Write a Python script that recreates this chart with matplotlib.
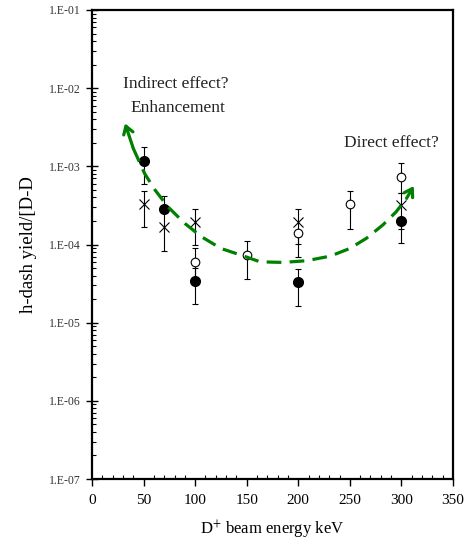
import matplotlib
matplotlib.use("Agg")
import matplotlib.pyplot as plt
from matplotlib.ticker import FixedLocator, FuncFormatter, MultipleLocator, LogLocator, NullFormatter
import numpy as np

plt.rcParams["font.family"] = ["Liberation Serif", "DejaVu Serif"]
plt.rcParams["mathtext.fontset"] = "stix"

# Filled circles
filled_x = [50, 70, 100, 200, 300]
filled_y = [1.18e-3, 2.87e-4, 3.38e-5, 3.31e-5, 2.02e-4]
filled_lo = [5.94e-4, 2.87e-4, 1.73e-5, 1.63e-5, 1.03e-4]
filled_hi = [1.78e-3, 2.87e-4, 5.0e-5, 4.87e-5, 2.02e-4]

# Open circles
open_x = [100, 150, 200, 250, 300]
open_y = [5.97e-5, 7.4e-5, 1.42e-4, 3.30e-4, 7.36e-4]
open_lo = [3.6e-5, 3.62e-5, 6.98e-5, 1.58e-4, 4.60e-4]
open_hi = [8.93e-5, 1.11e-4, 1.42e-4, 4.88e-4, 1.11e-3]

# Crosses
cross_x = [50, 70, 100, 200, 300]
cross_y = [3.30e-4, 1.69e-4, 1.96e-4, 1.96e-4, 3.20e-4]
cross_lo = [1.69e-4, 8.26e-5, 9.86e-5, 1.01e-4, 1.57e-4]
cross_hi = [4.88e-4, 4.18e-4, 2.87e-4, 2.85e-4, 4.60e-4]

# Guide curve (trend sketch)
trend_x = [32, 40, 51, 61, 74, 90, 106, 125, 146, 163, 185, 208, 231, 250, 266, 282, 295, 305, 312]
trend_y = [3.55e-3, 1.70e-3, 8.1e-4, 5.0e-4, 3.0e-4, 1.86e-4, 1.26e-4, 8.9e-5, 7.2e-5,
           6.0e-5, 5.9e-5, 6.2e-5, 7.1e-5, 8.9e-5, 1.2e-4, 1.78e-4, 2.63e-4, 3.9e-4, 5.6e-4]

x_ticks = [0, 50, 100, 150, 200, 250, 300, 350]
y_ticks = [1e-7, 1e-6, 1e-5, 1e-4, 1e-3, 1e-2, 1e-1]

fig = plt.figure(figsize=(4.66, 5.45), dpi=100)
ax = fig.add_axes([92 / 466, 1 - 479 / 545, (453 - 92) / 466, (479 - 10) / 545])
ax.set_yscale("log")
ax.set_xlim(0, 350)
ax.set_ylim(1e-7, 1e-1)

def errs(y, lo, hi):
    y = np.array(y); lo = np.array(lo); hi = np.array(hi)
    return [y - lo, hi - y]

ebkw = dict(ecolor="black", elinewidth=0.8, capsize=2.3, capthick=0.8, linestyle="none", zorder=3)
ax.errorbar(open_x, open_y, yerr=errs(open_y, open_lo, open_hi), fmt="o", ms=6.2,
            mfc="white", mec="black", mew=0.8, **ebkw)
ax.errorbar(cross_x, cross_y, yerr=errs(cross_y, cross_lo, cross_hi), fmt="x", ms=7.5,
            mec="black", mew=0.8, **ebkw)
ax.errorbar(filled_x, filled_y, yerr=errs(filled_y, filled_lo, filled_hi), fmt="o", ms=7,
            mfc="black", mec="black", **ebkw)

green = "#008000"
ax.plot(trend_x[1:-1], trend_y[1:-1], color=green, lw=2.3, linestyle=(0, (4.6, 2.6)),
        solid_capstyle="butt", dash_capstyle="butt", zorder=4)
for (x0, y0), (x1, y1) in [((trend_x[1], trend_y[1]), (trend_x[0], trend_y[0])),
                           ((trend_x[-2], trend_y[-2]), (trend_x[-1], trend_y[-1]))]:
    ax.annotate("", xy=(x1, y1), xytext=(x0, y0),
                arrowprops=dict(arrowstyle="->,head_length=0.55,head_width=0.35",
                                color=green, lw=2.3, shrinkA=0, shrinkB=0), zorder=4)

txtkw = dict(fontsize=12.5, color="#222222")
ax.text(30, 1.13e-2, "Indirect effect?", ha="left", va="center", **txtkw)
ax.text(37, 5.6e-3, "Enhancement", ha="left", va="center", **txtkw)
ax.text(336, 2.0e-3, "Direct effect?", ha="right", va="center", **txtkw)

ax.xaxis.set_major_locator(FixedLocator(x_ticks))
ax.xaxis.set_minor_locator(MultipleLocator(10))
ax.yaxis.set_major_locator(FixedLocator(y_ticks))
ax.yaxis.set_minor_locator(LogLocator(base=10, subs=np.arange(2, 10)))
ax.yaxis.set_minor_formatter(NullFormatter())
ax.yaxis.set_major_formatter(FuncFormatter(lambda v, p: "1.E-%02d" % round(-np.log10(v))))

ax.tick_params(axis="x", which="major", direction="out", length=5, width=1, labelsize=11, pad=6)
ax.tick_params(axis="x", which="minor", direction="in", length=3, width=0.8)
ax.tick_params(axis="y", which="major", direction="inout", length=8, width=1, labelsize=8.5,
               pad=4, labelcolor="#333333")
ax.tick_params(axis="y", which="minor", direction="in", length=3, width=0.8)
for s in ax.spines.values():
    s.set_linewidth(1.6)

ax.set_xlabel("D$^{+}$ beam energy keV", fontsize=12, labelpad=8)
ax.set_ylabel("h-dash yield/[D-D", fontsize=13.5, labelpad=9)

fig.savefig("out.png", dpi=100)
